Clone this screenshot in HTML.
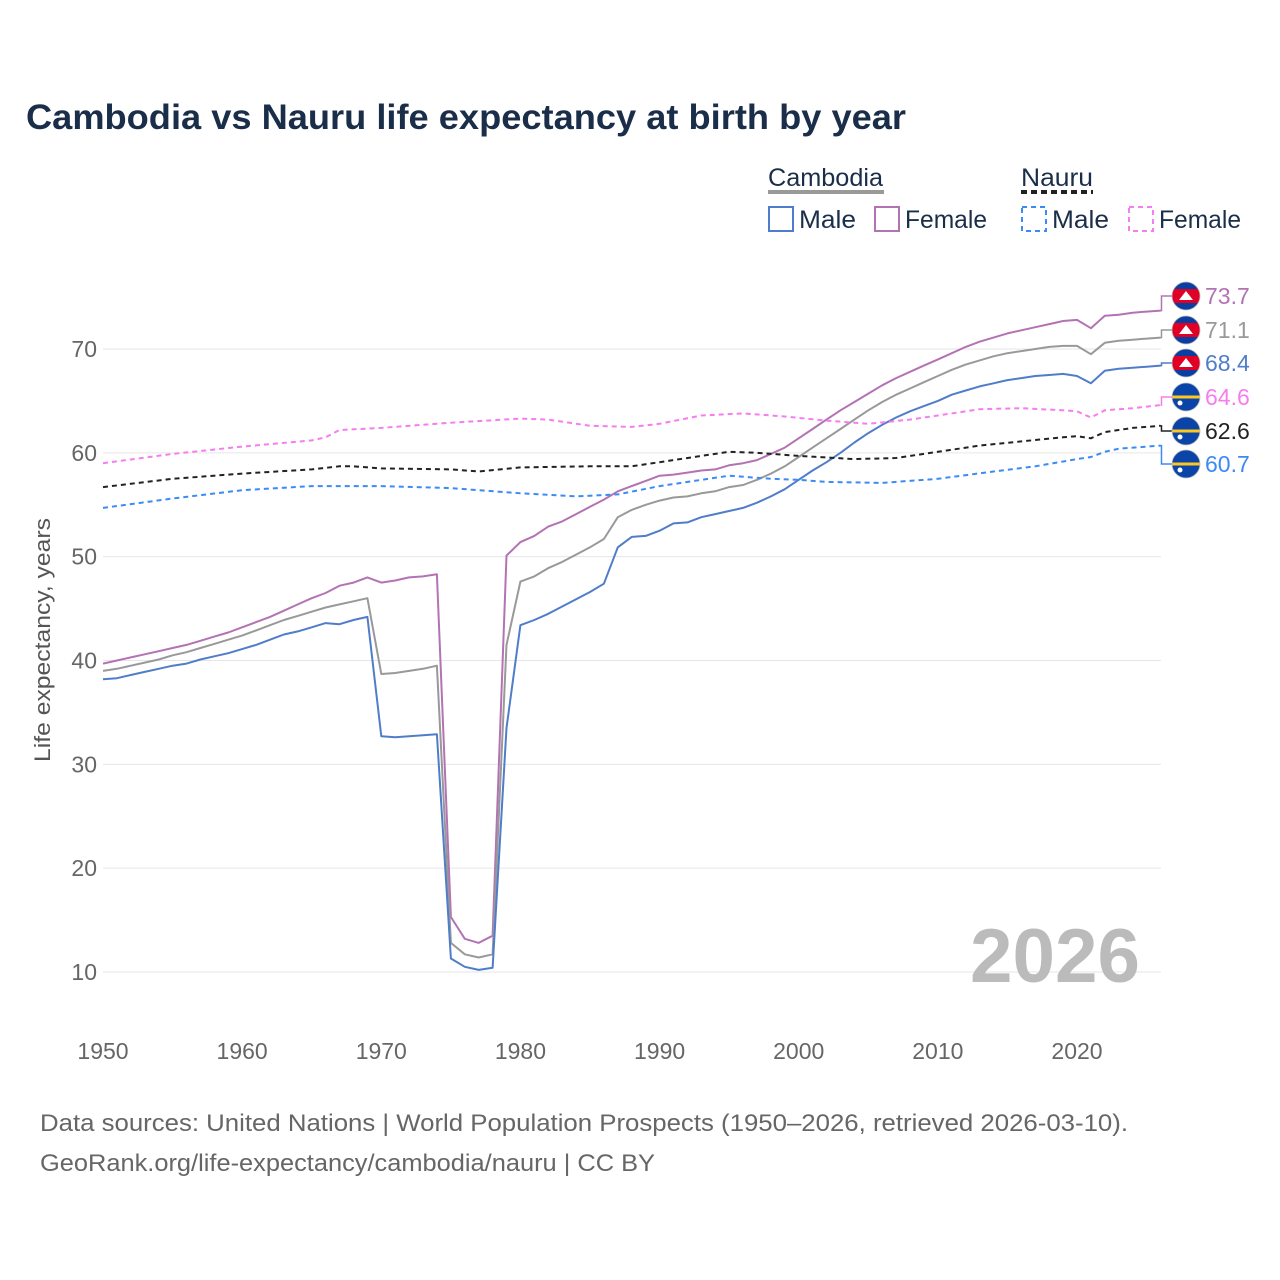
<!DOCTYPE html>
<html><head><meta charset="utf-8">
<style>
body{margin:0;background:#fff;font-family:"Liberation Sans",sans-serif;}
svg{display:block}
</style></head>
<body>
<svg id="chart" width="1280" height="1280" xmlns="http://www.w3.org/2000/svg">
<text x="26" y="129" font-size="35" font-weight="bold" fill="#1a2e4a" textLength="880" lengthAdjust="spacingAndGlyphs">Cambodia vs Nauru life expectancy at birth by year</text>
<g font-size="25" fill="#1a2e4a">
 <text x="768" y="186" textLength="115" lengthAdjust="spacingAndGlyphs">Cambodia</text>
 <rect x="768" y="190" width="116" height="4" fill="#999"/>
 <text x="1021" y="186" textLength="72" lengthAdjust="spacingAndGlyphs">Nauru</text>
 <line x1="1021" y1="192" x2="1093" y2="192" stroke="#222" stroke-width="4" stroke-dasharray="6,4"/>
 <g><rect x="769" y="207" width="24" height="24" fill="none" stroke="#4f7dc9" stroke-width="2"/><text x="799" y="228" textLength="57" lengthAdjust="spacingAndGlyphs">Male</text></g>
 <g><rect x="875" y="207" width="24" height="24" fill="none" stroke="#b373b3" stroke-width="2"/><text x="905" y="228" textLength="82" lengthAdjust="spacingAndGlyphs">Female</text></g>
 <g><rect x="1022" y="207" width="24" height="24" fill="none" stroke="#3b8bf5" stroke-width="2" stroke-dasharray="5,4"/><text x="1052" y="228" textLength="57" lengthAdjust="spacingAndGlyphs">Male</text></g>
 <g><rect x="1129" y="207" width="24" height="24" fill="none" stroke="#f67df0" stroke-width="2" stroke-dasharray="5,4"/><text x="1159" y="228" textLength="82" lengthAdjust="spacingAndGlyphs">Female</text></g>
</g>
<g id="grid"></g>
<g id="xaxis"></g>
<g id="yaxis"></g>
<text transform="translate(50,640) rotate(-90)" text-anchor="middle" font-size="22" fill="#555" textLength="244" lengthAdjust="spacingAndGlyphs">Life expectancy, years</text>
<text x="970" y="982" font-size="76" font-weight="bold" fill="#bbb" textLength="170" lengthAdjust="spacingAndGlyphs">2026</text>
<g id="series"></g>
<g id="labels"></g>
<text x="40" y="1131" font-size="24" fill="#666" textLength="1088" lengthAdjust="spacingAndGlyphs">Data sources: United Nations | World Population Prospects (1950–2026, retrieved 2026-03-10).</text>
<text x="40" y="1171" font-size="24" fill="#666" textLength="615" lengthAdjust="spacingAndGlyphs">GeoRank.org/life-expectancy/cambodia/nauru | CC BY</text>
</svg>
<script>
const khYears = [1950,1951,1952,1953,1954,1955,1956,1957,1958,1959,1960,1961,1962,1963,1964,1965,1966,1967,1968,1969,1970,1971,1972,1973,1974,1975,1976,1977,1978,1979,1980,1981,1982,1983,1984,1985,1986,1987,1988,1989,1990,1991,1992,1993,1994,1995,1996,1997,1998,1999,2000,2001,2002,2003,2004,2005,2006,2007,2008,2009,2010,2011,2012,2013,2014,2015,2016,2017,2018,2019,2020,2021,2022,2023,2024,2025,2026];
const khFemale = [39.7,40.0,40.3,40.6,40.9,41.2,41.5,41.9,42.3,42.7,43.2,43.7,44.2,44.8,45.4,46.0,46.5,47.2,47.5,48.0,47.5,47.7,48.0,48.1,48.3,15.3,13.2,12.8,13.5,50.1,51.4,52.0,52.9,53.4,54.1,54.8,55.5,56.3,56.8,57.3,57.8,57.9,58.1,58.3,58.4,58.8,59.0,59.3,59.9,60.5,61.4,62.3,63.2,64.1,64.9,65.7,66.5,67.2,67.8,68.4,69.0,69.6,70.2,70.7,71.1,71.5,71.8,72.1,72.4,72.7,72.8,72.0,73.2,73.3,73.5,73.6,73.7];
const khTotal = [39.0,39.2,39.5,39.8,40.1,40.5,40.8,41.2,41.6,42.0,42.4,42.9,43.4,43.9,44.3,44.7,45.1,45.4,45.7,46.0,38.7,38.8,39.0,39.2,39.5,12.8,11.7,11.4,11.7,41.5,47.6,48.1,48.9,49.5,50.2,50.9,51.7,53.8,54.5,55.0,55.4,55.7,55.8,56.1,56.3,56.7,56.9,57.4,58.0,58.7,59.6,60.5,61.4,62.3,63.2,64.1,64.9,65.6,66.2,66.8,67.4,68.0,68.5,68.9,69.3,69.6,69.8,70.0,70.2,70.3,70.3,69.5,70.6,70.8,70.9,71.0,71.1];
const khMale = [38.2,38.3,38.6,38.9,39.2,39.5,39.7,40.1,40.4,40.7,41.1,41.5,42.0,42.5,42.8,43.2,43.6,43.5,43.9,44.2,32.7,32.6,32.7,32.8,32.9,11.3,10.5,10.2,10.4,33.5,43.4,43.9,44.5,45.2,45.9,46.6,47.4,50.9,51.9,52.0,52.5,53.2,53.3,53.8,54.1,54.4,54.7,55.2,55.8,56.5,57.4,58.3,59.1,60.0,61.0,61.9,62.7,63.4,64.0,64.5,65.0,65.6,66.0,66.4,66.7,67.0,67.2,67.4,67.5,67.6,67.4,66.7,67.9,68.1,68.2,68.3,68.4];
const nrTotalYears = [1950,1955,1960,1965,1967,1968,1970,1975,1977,1980,1985,1988,1990,1993,1995,1997,2000,2004,2007,2010,2013,2016,2019,2020,2021,2022,2024,2026];
const nrTotal = [56.7,57.5,58.0,58.4,58.7,58.7,58.5,58.4,58.2,58.6,58.7,58.7,59.1,59.7,60.1,60.0,59.7,59.4,59.5,60.1,60.7,61.1,61.5,61.6,61.4,62.0,62.4,62.6];
const nrMaleYears = [1950,1955,1960,1965,1970,1975,1980,1984,1987,1990,1995,1998,2000,2002,2006,2010,2014,2017,2020,2021,2022,2023,2026];
const nrMale = [54.7,55.6,56.4,56.8,56.8,56.6,56.1,55.8,56.0,56.8,57.8,57.5,57.4,57.2,57.1,57.5,58.2,58.7,59.4,59.6,60.1,60.4,60.7];
const nrFemaleYears = [1950,1955,1960,1965,1966,1967,1970,1975,1980,1982,1985,1988,1990,1993,1996,1999,2002,2005,2008,2010,2013,2016,2019,2020,2021,2022,2024,2026];
const nrFemale = [59.0,59.9,60.6,61.2,61.5,62.2,62.4,62.9,63.3,63.2,62.6,62.5,62.8,63.6,63.8,63.5,63.1,62.8,63.2,63.6,64.2,64.3,64.1,64.0,63.4,64.1,64.3,64.6];
const xTicks = [1950,1960,1970,1980,1990,2000,2010,2020];
const yTicks = [10,20,30,40,50,60,70];

const NS="http://www.w3.org/2000/svg";
const X = y => 103 + (y-1950)*(974/70);
const Y = v => 972 - (v-10)*(623/60);
function mk(tag, attrs, parent){const e=document.createElementNS(NS,tag);for(const k in attrs)e.setAttribute(k,attrs[k]);parent.appendChild(e);return e;}
const grid=document.getElementById('grid'), xa=document.getElementById('xaxis'), ya=document.getElementById('yaxis');
yTicks.forEach(t=>{
  const l=mk('line',{x1:103,x2:1161,y1:Y(t),y2:Y(t),stroke:'#e6e6e6','stroke-width':1},grid);
  
  
  const tx=mk('text',{x:97,y:Y(t)+8,'text-anchor':'end','font-size':23,fill:'#666'},ya);
  tx.textContent=t;
  
  
});
xTicks.forEach(t=>{
  const tx=mk('text',{x:X(t),y:1059,'text-anchor':'middle','font-size':23,fill:'#666'},xa);
  tx.textContent=t;
  
  
});
const ser=document.getElementById('series'), lab=document.getElementById('labels');
const defs=[
 {n:'cambodia-female',yr:khYears,v:khFemale,c:'#b373b3',d:null,flag:'kh',ly:296},
 {n:'cambodia-total',yr:khYears,v:khTotal,c:'#999999',d:null,flag:'kh',ly:330},
 {n:'cambodia-male',yr:khYears,v:khMale,c:'#4f7dc9',d:null,flag:'kh',ly:363},
 {n:'nauru-female',yr:nrFemaleYears,v:nrFemale,c:'#f67df0',d:'5,4',flag:'nr',ly:397},
 {n:'nauru-total',yr:nrTotalYears,v:nrTotal,c:'#222222',d:'5,4',flag:'nr',ly:431},
 {n:'nauru-male',yr:nrMaleYears,v:nrMale,c:'#3b8bf5',d:'5,4',flag:'nr',ly:464}
];
defs.forEach(s=>{
  const pts=s.yr.map((y,i)=>X(y).toFixed(1)+','+Y(s.v[i]).toFixed(1)).join(' ');
  const a={points:pts,fill:'none',stroke:s.c,'stroke-width':2,'stroke-linejoin':'round'};
  if(s.d)a['stroke-dasharray']=s.d;
  const pl=mk('polyline',a,ser);
  
  
  const last=s.v[s.v.length-1], ex=X(s.yr[s.yr.length-1]), ey=Y(last);
  const con=mk('polyline',{points:`${ex},${ey} ${ex+1},${ey} ${ex+1},${s.ly} ${ex+12},${s.ly}`,fill:'none',stroke:s.c,'stroke-width':1.5},lab);
  
  
  const g=mk('g',{},lab);
  
  
  const cx=1186, cy=s.ly, r=14;
  const cp=mk('clipPath',{id:'cp'+s.n},g);
  mk('circle',{cx:cx,cy:cy,r:r},cp);
  const fg=mk('g',{'clip-path':`url(#cp${s.n})`},g);
  if(s.flag==='kh'){
    mk('rect',{x:cx-r,y:cy-r,width:2*r,height:2*r,fill:'#0a3ea0'},fg);
    mk('rect',{x:cx-r,y:cy-7,width:2*r,height:14,fill:'#e00025'},fg);
    mk('polygon',{points:`${cx-7},${cy+4} ${cx+7},${cy+4} ${cx},${cy-5}`,fill:'#fff'},fg);
  } else {
    mk('rect',{x:cx-r,y:cy-r,width:2*r,height:2*r,fill:'#0a44a8'},fg);
    mk('rect',{x:cx-r,y:cy-1.5,width:2*r,height:3,fill:'#ffc61e'},fg);
    mk('circle',{cx:cx-6,cy:cy+6,r:2.5,fill:'#fff'},fg);
  }
  mk('circle',{cx:cx,cy:cy,r:r,fill:'none',stroke:'#bbb','stroke-width':0.8},g);
  const t=mk('text',{x:1205,y:s.ly+8,'font-size':23,fill:s.c},lab);
  t.textContent=last.toFixed(1);
  
  
});
</script>
</body></html>
